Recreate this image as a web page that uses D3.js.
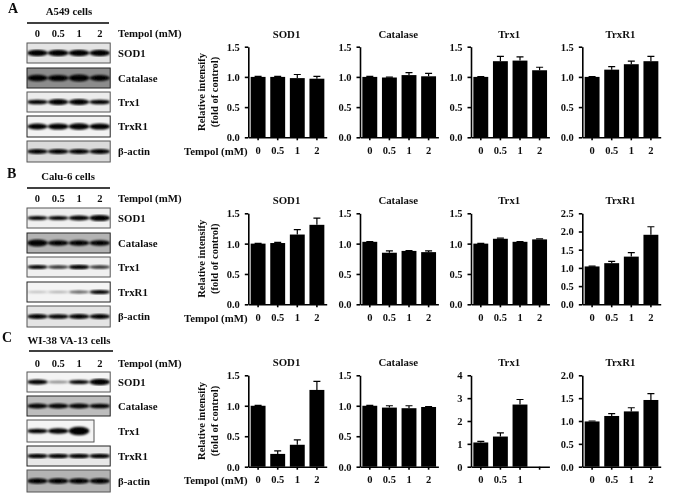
<!DOCTYPE html>
<html>
<head>
<meta charset="utf-8">
<script src="https://cdn.jsdelivr.net/npm/d3@7"></script>
<style>
  html, body { margin: 0; padding: 0; background: #fff; }
  svg { display: block; }
  text { font-family: "Liberation Serif", serif; font-weight: bold; fill: #111; }
  .axis path, .axis line { stroke: #000; stroke-width: 1.6; }
  .axis text { font-family: "Liberation Serif", serif; font-size: 10.5px; font-weight: bold; }
</style>
</head>
<body>
<svg id="chart" width="685" height="495"></svg>
<script>
const doses = ["0", "0.5", "1", "2"];
const proteins = ["SOD1", "Catalase", "Trx1", "TrxR1"];
const blotLabels = ["SOD1", "Catalase", "Trx1", "TrxR1", "β-actin"];
const letters = ["A", "B", "C"];
const cellLines = ["A549 cells", "Calu-6 cells", "WI-38 VA-13 cells"];

// bar heights, one row per cell line, then one list per protein
const meansA = [[1.00, 1.00, 0.98, 0.97], [1.00, 0.99, 1.03, 1.01], [1.00, 1.26, 1.27, 1.11], [1.00, 1.12, 1.21, 1.26]];
const errorsA = [[0.01, 0.01, 0.06, 0.04], [0.01, 0.005, 0.04, 0.05], [0.005, 0.08, 0.06, 0.05], [0.005, 0.05, 0.05, 0.08]];
const meansB = [[1.00, 1.01, 1.15, 1.31], [1.03, 0.85, 0.88, 0.86], [1.00, 1.08, 1.03, 1.07], [1.04, 1.13, 1.31, 1.91]];
const errorsB = [[0.005, 0.01, 0.08, 0.11], [0.005, 0.03, 0.005, 0.02], [0.005, 0.01, 0.005, 0.01], [0.01, 0.05, 0.11, 0.22]];
const meansC = [[1.00, 0.21, 0.36, 1.26], [1.00, 0.97, 0.96, 0.98], [1.06, 1.32, 2.72, null], [0.99, 1.11, 1.21, 1.46]];
const errorsC = [[0.005, 0.05, 0.08, 0.14], [0.005, 0.03, 0.04, 0.005], [0.05, 0.16, 0.22, null], [0.01, 0.05, 0.08, 0.14]];

// y ticks of each small chart
const ticksA = [[0, 0.5, 1, 1.5], [0, 0.5, 1, 1.5], [0, 0.5, 1, 1.5], [0, 0.5, 1, 1.5]];
const ticksB = [[0, 0.5, 1, 1.5], [0, 0.5, 1, 1.5], [0, 0.5, 1, 1.5], [0, 0.5, 1, 1.5, 2, 2.5]];
const ticksC = [[0, 0.5, 1, 1.5], [0, 0.5, 1, 1.5], [0, 1, 2, 3, 4], [0, 0.5, 1, 1.5, 2]];

// how strong each band looks on the blots, and how dark the film is behind them
const bandsA = [[0.95, 0.95, 0.9, 0.9], [0.9, 0.85, 1, 0.8], [0.6, 0.8, 0.8, 0.6], [0.8, 0.85, 0.9, 0.85], [0.65, 0.65, 0.65, 0.7]];
const bandsB = [[0.5, 0.5, 0.7, 0.85], [1, 0.75, 0.75, 0.75], [0.5, 0.4, 0.6, 0.4], [0.08, 0.12, 0.3, 0.5], [0.7, 0.6, 0.7, 0.7]];
const bandsC = [[0.65, 0.2, 0.5, 0.9], [0.7, 0.65, 0.7, 0.6], [0.6, 0.75, 1.3], [0.6, 0.6, 0.6, 0.6], [0.75, 0.75, 0.75, 0.75]];
const hazeA = [0.1, 0.55, 0.06, 0.03, 0.15];
const hazeB = [0.04, 0.35, 0.04, 0.02, 0.1];
const hazeC = [0.02, 0.3, 0.02, 0.08, 0.35];

const panels = [
  { means: meansA, errors: errorsA, ticks: ticksA, bands: bandsA, haze: hazeA },
  { means: meansB, errors: errorsB, ticks: ticksB, bands: bandsB, haze: hazeB },
  { means: meansC, errors: errorsC, ticks: ticksC, bands: bandsC, haze: hazeC },
];

// layout
const chartTop = [46.7, 213.3, 375.3];
const chartBottom = [137.3, 304.3, 466.7];
const chartLeft = [248.3, 360, 471, 582.3];
const chartWidth = 78.4;
const letterPos = [[8, 13], [7, 178], [2, 342]];
const headCenter = [69, 68, 69];
const headY = [15, 180, 344];
const ruleY = [23, 188, 351];
const ruleX = [[27, 109], [27, 110], [29, 113]];
const laneY = [37, 202, 367];
const blotTops = [[43, 68, 92, 116, 141], [208, 233, 257, 282, 306], [372, 396, 420, 446, 470]];
const blotBottoms = [[63, 88, 112, 137, 162], [228, 253, 277, 302, 327], [392, 416, 442, 466, 492]];
const blotLeft = 27, blotStep = 20.8;

const svg = d3.select("#chart");

const defs = svg.append("defs");
defs.append("filter").attr("id", "soft").append("feGaussianBlur").attr("stdDeviation", 0.8);
defs.append("filter").attr("id", "ink").append("feGaussianBlur").attr("stdDeviation", 0.25);

const root = svg.append("g").attr("filter", "url(#ink)");

const bandHeight = d3.scaleLinear().domain([0, 1]).range([0.8, 3.4]);
const bandOpacity = d3.scaleLinear().domain([0, 0.5]).range([0.1, 1]).clamp(true);
const filmColor = d3.scaleLinear().domain([0, 1]).range(["#f8f8f8", "#333"]);

function drawBlots(g, p, i) {
  g.append("text").attr("x", letterPos[i][0]).attr("y", letterPos[i][1]).attr("font-size", 14).text(letters[i]);
  g.append("text").attr("x", headCenter[i]).attr("y", headY[i]).attr("text-anchor", "middle")
    .attr("font-size", 10.8).text(cellLines[i]);
  g.append("line").attr("x1", ruleX[i][0]).attr("x2", ruleX[i][1]).attr("y1", ruleY[i]).attr("y2", ruleY[i])
    .attr("stroke", "#000").attr("stroke-width", 1.5);

  const lane = d3.scaleBand().domain(doses).range([blotLeft, blotLeft + blotStep * doses.length]);
  g.selectAll(".dose").data(doses).enter().append("text").attr("class", "dose")
    .attr("x", (d) => lane(d) + lane.bandwidth() / 2)
    .attr("y", laneY[i]).attr("text-anchor", "middle").attr("font-size", 10.5).text((d) => d);
  g.append("text").attr("x", 118).attr("y", laneY[i]).attr("font-size", 10.8).text("Tempol (mM)");

  blotLabels.forEach((label, r) => {
    const top = blotTops[i][r], bottom = blotBottoms[i][r];
    const values = p.bands[r];
    const w = values.length < doses.length ? 67 : blotStep * doses.length;
    const film = g.append("g");
    const mid = (top + bottom) / 2;
    const clipId = `clip-${i}-${r}`;
    defs.append("clipPath").attr("id", clipId).append("rect")
      .attr("x", blotLeft).attr("y", top).attr("width", w).attr("height", bottom - top);
    film.append("rect").attr("x", blotLeft).attr("y", top).attr("width", w).attr("height", bottom - top)
      .attr("fill", filmColor(p.haze[r]));
    const inner = film.append("g").attr("clip-path", `url(#${clipId})`).append("g").attr("filter", "url(#soft)");
    inner.selectAll("ellipse").data(values).enter().append("ellipse")
      .attr("cx", (d, k) => lane(doses[k]) + lane.bandwidth() / 2)
      .attr("cy", mid)
      .attr("rx", lane.bandwidth() * 0.5)
      .attr("ry", (d) => bandHeight(d))
      .attr("fill", "#000")
      .attr("opacity", (d) => bandOpacity(d));
    film.append("rect").attr("x", blotLeft).attr("y", top).attr("width", w).attr("height", bottom - top)
      .attr("fill", "none").attr("stroke", r % 2 ? "#222" : "#555").attr("stroke-width", 1);
    g.append("text").attr("x", 118).attr("y", mid + 3.5).attr("font-size", 10.8).text(label);
  });
}

function drawChart(parent, p, i, c) {
  const g = parent.append("g");
  const top = chartTop[i], bottom = chartBottom[i], left = chartLeft[c];
  const ticks = p.ticks[c];
  const x = d3.scaleBand().domain(doses).range([left, left + chartWidth]).paddingInner(0.24).paddingOuter(0.12);
  const y = d3.scaleLinear().domain([0, d3.max(ticks)]).range([bottom, top]);
  const rows = doses.map((d, k) => ({ dose: d, mean: p.means[c][k], error: p.errors[c][k] }))
    .filter((d) => d.mean !== null);

  g.append("text").attr("x", left + chartWidth / 2 - 1).attr("y", top - 9).attr("text-anchor", "middle")
    .attr("font-size", 10.8).text(proteins[c]);

  const cx = (d) => x(d.dose) + x.bandwidth() / 2;
  g.selectAll(".err").data(rows).enter().append("path").attr("class", "err")
    .attr("d", (d) => `M${cx(d)},${y(d.mean)}V${y(d.mean + d.error)}M${cx(d) - 3.5},${y(d.mean + d.error)}H${cx(d) + 3.5}`)
    .attr("stroke", "#000").attr("stroke-width", 1.2).attr("fill", "none");
  g.selectAll(".bar").data(rows).enter().append("rect").attr("class", "bar")
    .attr("x", (d) => x(d.dose)).attr("width", x.bandwidth())
    .attr("y", (d) => y(d.mean)).attr("height", (d) => y(0) - y(d.mean))
    .attr("fill", "#000");

  const labels = doses.map((d, k) => (p.means[c][k] === null ? "" : d));
  g.append("g").attr("class", "axis").attr("transform", `translate(0,${bottom})`)
    .call(d3.axisBottom(x).tickSize(3).tickSizeOuter(0).tickPadding(6).tickFormat((d, k) => labels[k]));
  g.append("g").attr("class", "axis").attr("transform", `translate(${left},0)`)
    .call(d3.axisLeft(y).tickValues(ticks).tickSize(3.5).tickSizeOuter(0).tickPadding(5)
      .tickFormat(d3.max(ticks) === 4 ? d3.format("d") : d3.format(".1f")));
}

panels.forEach((p, i) => {
  const g = root.append("g");
  drawBlots(g, p, i);
  proteins.forEach((name, c) => drawChart(g, p, i, c));

  const mid = (chartTop[i] + chartBottom[i]) / 2;
  g.append("text").attr("transform", `translate(205,${mid}) rotate(-90)`).attr("text-anchor", "middle")
    .attr("font-size", 10.5).text("Relative intensify");
  g.append("text").attr("transform", `translate(218,${mid}) rotate(-90)`).attr("text-anchor", "middle")
    .attr("font-size", 10.5).text("(fold of control)");
  g.append("text").attr("x", 184).attr("y", chartBottom[i] + 17.5).attr("font-size", 10.8).text("Tempol (mM)");
});
</script>
</body>
</html>
